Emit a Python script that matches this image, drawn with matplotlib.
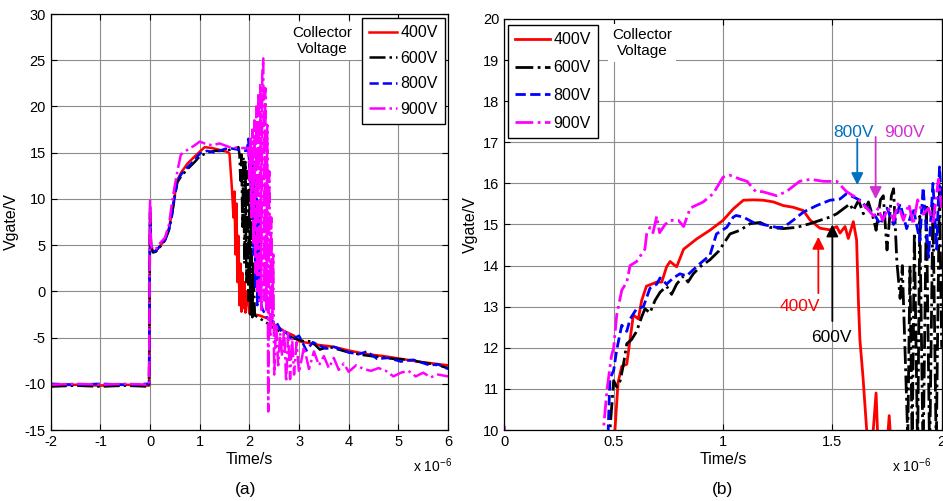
import numpy as np
import matplotlib.pyplot as plt

plt.rcParams['font.family'] = ['Liberation Sans', 'DejaVu Sans']
plt.rcParams['axes.unicode_minus'] = False

# ---------------------------------------------------------------------------
# (a) full gate-voltage waveform, time in us, (t, V) pairs
# ---------------------------------------------------------------------------
a_400V = [(-2.0, -10.2), (-1.5, -10.1), (-1.0, -10.2), (-0.5, -10.1), (-0.02, -10.2),
          (0.0, 8.5), (0.02, 5.0), (0.06, 4.3), (0.12, 4.4), (0.2, 4.9), (0.3, 5.6),
          (0.38, 6.8), (0.44, 8.5), (0.5, 10.5), (0.55, 12.0), (0.62, 12.8), (0.75, 13.8),
          (0.9, 14.6), (1.0, 15.1), (1.1, 15.6), (1.25, 15.5), (1.4, 15.3), (1.55, 15.1),
          (1.6, 14.9), (1.65, 11.0), (1.68, 8.0), (1.70, 10.8), (1.72, 4.0), (1.74, 9.5),
          (1.76, 1.0), (1.78, 6.0), (1.80, -1.5), (1.82, 3.0), (1.84, -2.2), (1.86, 2.0),
          (1.88, -1.8), (1.90, 1.0), (1.92, -2.3), (1.95, 0.0), (2.0, -2.4), (2.1, -2.5),
          (2.2, -2.6), (2.3, -2.8), (2.4, -3.0), (2.5, -3.6), (2.7, -4.3), (2.9, -4.8),
          (3.0, -5.4), (3.4, -5.8), (3.7, -6.0), (4.0, -6.4), (4.37, -6.8), (4.7, -7.0),
          (5.05, -7.3), (5.4, -7.6), (5.7, -7.8), (6.0, -8.0)]

a_600V = [(-2.0, -10.3), (-1.5, -10.2), (-1.0, -10.3), (-0.5, -10.2), (-0.02, -10.3),
          (0.0, 8.0), (0.02, 4.8), (0.06, 4.2), (0.12, 4.3), (0.2, 4.8), (0.3, 5.5),
          (0.38, 6.6), (0.44, 8.2), (0.5, 10.3), (0.55, 11.8), (0.62, 12.4), (0.75, 13.2),
          (0.9, 14.0), (1.0, 14.6), (1.15, 15.0), (1.3, 15.2), (1.5, 15.2), (1.7, 15.4),
          (1.78, 15.6), (1.80, 14.8), (1.82, 12.0), (1.84, 14.8), (1.86, 7.0), (1.88, 14.5),
          (1.90, 3.0), (1.92, 14.0), (1.94, 1.0), (1.96, 13.0), (1.98, -1.0), (2.00, 11.0),
          (2.02, -2.5), (2.04, 8.0), (2.06, -2.8), (2.08, 3.0), (2.11, -2.6), (2.2, -2.9),
          (2.35, -3.4), (2.5, -4.0), (2.7, -4.6), (2.9, -5.1), (3.1, -5.4), (3.25, -5.4),
          (3.42, -6.3), (3.6, -6.0), (3.8, -6.3), (4.0, -6.6), (4.3, -6.9), (4.6, -7.1),
          (4.9, -7.3), (5.2, -7.4), (5.5, -7.7), (5.8, -8.0), (6.0, -8.3)]

a_800V = [(-2.0, -10.0), (-1.5, -10.1), (-1.0, -10.0), (-0.5, -10.1), (-0.02, -10.0),
          (0.0, 9.0), (0.02, 4.8), (0.06, 4.3), (0.12, 4.4), (0.2, 4.9), (0.3, 5.6),
          (0.38, 6.7), (0.44, 8.3), (0.5, 10.4), (0.55, 12.0), (0.62, 12.6), (0.75, 13.4),
          (0.9, 14.2), (1.0, 14.9), (1.15, 15.2), (1.3, 15.0), (1.5, 15.4), (1.6, 15.5),
          (1.8, 15.3), (1.95, 15.2), (1.98, 16.5), (2.00, 13.0), (2.02, 15.8), (2.04, 8.0),
          (2.06, 15.5), (2.08, 4.0), (2.10, 14.0), (2.12, 0.5), (2.14, 12.0), (2.16, -1.5),
          (2.18, 9.0), (2.20, -1.0), (2.22, 5.0), (2.24, -1.5), (2.27, -2.0), (2.35, -2.8),
          (2.45, -3.2), (2.55, -3.4), (2.65, -4.4), (2.75, -4.5), (2.85, -5.2), (3.0, -4.8),
          (3.15, -6.4), (3.28, -5.5), (3.42, -5.9), (3.55, -6.2), (3.7, -6.0), (3.85, -6.3),
          (4.0, -6.6), (4.2, -6.8), (4.37, -6.5), (4.57, -7.3), (4.8, -7.2), (5.05, -7.6),
          (5.3, -7.4), (5.63, -8.0), (5.8, -7.9), (6.0, -8.4)]

a_900V = [(-2.0, -10.1), (-1.5, -10.0), (-1.0, -10.1), (-0.5, -10.0), (-0.02, -10.1),
          (0.0, 10.0), (0.02, 5.0), (0.06, 4.5), (0.12, 4.6), (0.2, 5.2), (0.3, 5.8),
          (0.38, 7.2), (0.44, 9.5), (0.5, 11.5), (0.55, 13.0), (0.62, 14.8), (0.75, 15.3),
          (0.9, 15.8), (1.0, 16.2), (1.1, 16.0), (1.25, 15.8), (1.4, 16.0), (1.6, 15.6),
          (1.8, 15.5), (1.98, 15.5), (2.00, 12.0), (2.02, 16.5), (2.04, 8.0), (2.06, 17.5),
          (2.08, 5.0), (2.10, 18.5), (2.12, 2.0), (2.14, 20.0), (2.16, 0.0), (2.18, 21.5),
          (2.20, -1.0), (2.22, 22.5), (2.24, -2.0), (2.26, 23.5), (2.28, 25.2), (2.30, -1.0),
          (2.32, 22.0), (2.34, -2.0), (2.36, 18.0), (2.38, -13.0), (2.40, 13.0), (2.42, -5.0),
          (2.44, 8.0), (2.46, -3.0), (2.48, 4.0), (2.50, -9.0), (2.54, -3.5), (2.58, -8.0),
          (2.62, -4.5), (2.66, -7.0), (2.70, -4.0), (2.74, -9.8), (2.78, -4.5), (2.82, -9.5),
          (2.86, -5.0), (2.90, -9.0), (2.95, -5.5), (3.0, -8.8), (3.1, -6.0), (3.2, -8.4),
          (3.3, -6.5), (3.4, -8.0), (3.5, -7.0), (3.6, -8.3), (3.7, -7.2), (3.8, -8.5),
          (3.9, -7.8), (4.0, -8.7), (4.15, -8.0), (4.3, -8.4), (4.45, -8.6), (4.6, -8.3),
          (4.75, -8.6), (4.9, -9.2), (5.05, -8.8), (5.2, -8.6), (5.35, -9.2), (5.5, -8.8),
          (5.65, -9.3), (5.8, -9.0), (6.0, -9.2)]

# ---------------------------------------------------------------------------
# (b) zoom on the Miller plateau, 0..2 us
# ---------------------------------------------------------------------------
b_400V = [(0.0, 4.5), (0.5, 9.5), (0.506, 10.0), (0.52, 11.15), (0.537, 11.55), (0.56, 11.6),
          (0.575, 12.2), (0.59, 12.8), (0.613, 12.7), (0.628, 13.15), (0.65, 13.5),
          (0.674, 13.55), (0.697, 13.6), (0.72, 13.6), (0.742, 13.97), (0.758, 14.1),
          (0.788, 13.97), (0.82, 14.4), (0.88, 14.65), (0.94, 14.86), (1.0, 15.1),
          (1.047, 15.38), (1.093, 15.59), (1.139, 15.6), (1.184, 15.59), (1.23, 15.55),
          (1.276, 15.46), (1.32, 15.42), (1.367, 15.34), (1.398, 15.11), (1.443, 14.91),
          (1.489, 14.87), (1.52, 14.95), (1.535, 14.79), (1.558, 14.95), (1.573, 14.66),
          (1.596, 15.07), (1.611, 14.62), (1.619, 13.16), (1.626, 12.2), (1.64, 11.3),
          (1.657, 10.0), (1.68, 9.5), (1.70, 10.9), (1.71, 9.5), (1.75, 9.6), (1.76, 10.35),
          (1.77, 9.5), (2.0, 9.0)]

b_600V = [(0.0, 4.5), (0.47, 9.5), (0.483, 10.0), (0.5, 11.2), (0.514, 11.05), (0.53, 11.2),
          (0.545, 11.6), (0.56, 12.1), (0.582, 12.2), (0.605, 12.4), (0.628, 12.75),
          (0.643, 12.95), (0.666, 12.85), (0.689, 13.15), (0.712, 13.35), (0.742, 13.5),
          (0.765, 13.3), (0.788, 13.55), (0.82, 13.75), (0.84, 13.6), (0.864, 13.8),
          (0.895, 13.97), (0.94, 14.14), (0.98, 14.35), (1.032, 14.77), (1.078, 14.86),
          (1.124, 15.02), (1.17, 15.05), (1.215, 14.93), (1.276, 14.9), (1.337, 14.93),
          (1.398, 15.02), (1.443, 15.1), (1.489, 15.18), (1.52, 15.26), (1.55, 15.38),
          (1.58, 15.5), (1.596, 15.34), (1.62, 15.59), (1.642, 15.26), (1.665, 15.55),
          (1.69, 15.1), (1.70, 14.86), (1.72, 15.6), (1.733, 15.7), (1.75, 14.38),
          (1.77, 15.7), (1.78, 15.87), (1.795, 14.1), (1.81, 13.2), (1.82, 14.0),
          (1.835, 11.5), (1.845, 9.8), (1.855, 14.0), (1.865, 9.5), (1.875, 14.8),
          (1.89, 9.5), (1.90, 15.2), (1.915, 9.3), (1.93, 15.5), (1.945, 9.3), (1.96, 15.5),
          (1.975, 9.5), (1.99, 16.0), (2.0, 12.0)]

b_800V = [(0.0, 4.5), (0.47, 9.6), (0.475, 10.0), (0.483, 11.25), (0.5, 11.45), (0.514, 11.95),
          (0.537, 12.55), (0.56, 12.4), (0.575, 12.7), (0.605, 12.95), (0.636, 13.0),
          (0.666, 13.45), (0.697, 13.55), (0.712, 13.7), (0.742, 13.55), (0.773, 13.7),
          (0.803, 13.8), (0.834, 13.75), (0.864, 13.9), (0.895, 14.05), (0.94, 14.25),
          (0.97, 14.77), (1.017, 14.93), (1.047, 15.18), (1.06, 15.22), (1.093, 15.18),
          (1.139, 15.05), (1.184, 15.0), (1.245, 14.93), (1.276, 14.93), (1.32, 15.1),
          (1.367, 15.3), (1.428, 15.46), (1.489, 15.59), (1.535, 15.62), (1.565, 15.75),
          (1.596, 15.67), (1.627, 15.59), (1.657, 15.42), (1.69, 15.26), (1.72, 15.0),
          (1.75, 15.4), (1.78, 15.0), (1.81, 15.5), (1.84, 14.9), (1.87, 15.4), (1.90, 14.6),
          (1.915, 15.9), (1.94, 14.2), (1.96, 16.0), (1.977, 14.4), (1.99, 16.4), (2.0, 15.5)]

b_900V = [(0.0, 10.1), (0.005, 4.0), (0.44, 9.5), (0.453, 10.0), (0.47, 11.0), (0.49, 11.8),
          (0.5, 12.0), (0.514, 12.8), (0.537, 13.4), (0.56, 13.6), (0.575, 14.0),
          (0.605, 14.1), (0.643, 14.4), (0.651, 14.77), (0.666, 14.93), (0.68, 14.8),
          (0.697, 15.2), (0.71, 14.8), (0.735, 15.0), (0.758, 15.1), (0.796, 15.1),
          (0.82, 14.95), (0.85, 15.4), (0.91, 15.55), (0.955, 15.75), (1.0, 16.15),
          (1.03, 16.2), (1.08, 16.1), (1.11, 16.05), (1.15, 15.8), (1.18, 15.8),
          (1.245, 15.7), (1.29, 15.8), (1.35, 16.05), (1.40, 16.1), (1.46, 16.05),
          (1.52, 16.05), (1.565, 15.8), (1.61, 15.65), (1.657, 15.4), (1.69, 15.2),
          (1.71, 15.4), (1.73, 15.1), (1.756, 15.4), (1.78, 15.1), (1.80, 15.5),
          (1.825, 15.1), (1.85, 15.5), (1.87, 15.0), (1.89, 15.6), (1.915, 15.25),
          (1.94, 15.4), (1.96, 15.0), (1.985, 16.1), (2.0, 15.4)]

labels = ['400V', '600V', '800V', '900V']
colors = ['#FF0000', '#000000', '#0000FF', '#FF00FF']
styles = ['-', '-.', '--', '-.']

# annotation arrows in (b): label, colour, text pos, arrow tail, arrow tip
arrow_notes = [
    ('800V', '#0070C0', (1.598, 17.25), (1.614, 17.08), (1.614, 15.96)),
    ('900V', '#D030D0', (1.83, 17.25), (1.698, 17.13), (1.698, 15.62)),
    ('400V', '#FF0000', (1.35, 13.0), (1.436, 13.33), (1.436, 14.70)),
    ('600V', '#000000', (1.497, 12.24), (1.50, 12.65), (1.50, 15.0)),
]

fig = plt.figure(figsize=(9.43, 5.01), dpi=100)
ax1 = fig.add_axes([0.0538, 0.1417, 0.4213, 0.8303])
ax2 = fig.add_axes([0.5348, 0.1417, 0.4638, 0.8204])

for data, lab, c, ls in zip([a_400V, a_600V, a_800V, a_900V], labels, colors, styles):
    d = np.array(data)
    ax1.plot(d[:, 0], d[:, 1], color=c, linestyle=ls, linewidth=1.8, label=lab)
for data, lab, c, ls in zip([b_400V, b_600V, b_800V, b_900V], labels, colors, styles):
    d = np.array(data)
    ax2.plot(d[:, 0], d[:, 1], color=c, linestyle=ls, linewidth=2.0, label=lab)

ax1.set_xlim(-2, 6)
ax1.set_ylim(-15, 30)
ax1.set_xticks(np.arange(-2, 7, 1))
ax1.set_yticks(np.arange(-15, 31, 5))
ax2.set_xlim(0, 2)
ax2.set_ylim(10, 20)
ax2.set_xticks([0, 0.5, 1, 1.5, 2])
ax2.set_xticklabels(['0', '0.5', '1', '1.5', '2'])
ax2.set_yticks(np.arange(10, 21, 1))

for ax in (ax1, ax2):
    ax.grid(True, color='0.55', linewidth=0.8)
    ax.set_axisbelow(True)
    ax.tick_params(direction='in', top=True, right=True, labelsize=10.5, length=4, width=0.8)
    for s in ax.spines.values():
        s.set_linewidth(0.9)
    ax.set_xlabel('Time/s', fontsize=11.5, labelpad=2)
    ax.set_ylabel('Vgate/V', fontsize=11.5, labelpad=4)

leg1 = ax1.legend(loc='upper right', bbox_to_anchor=(0.993, 0.99), borderaxespad=0,
                  fontsize=11.5, fancybox=False, framealpha=1, edgecolor='black',
                  handlelength=1.8, handletextpad=0.2, labelspacing=0.66, borderpad=0.45)
leg1.get_frame().set_linewidth(1.0)
leg2 = ax2.legend(loc='upper left', bbox_to_anchor=(0.0085, 0.985), borderaxespad=0,
                  fontsize=11.5, fancybox=False, framealpha=1, edgecolor='black',
                  handlelength=2.2, handletextpad=0.2, labelspacing=0.8, borderpad=0.45)
leg2.get_frame().set_linewidth(1.0)

box = dict(facecolor='white', edgecolor='none', pad=3)
ax1.text(3.46, 27.1, 'Collector\nVoltage', fontsize=11, ha='center', va='center',
         bbox=box, zorder=5)
ax2.text(0.63, 19.42, 'Collector\nVoltage', fontsize=11, ha='center', va='center',
         bbox=box, zorder=5)

for text, c, tpos, tail, tip in arrow_notes:
    ax2.annotate('', xy=tip, xytext=tail,
                 arrowprops=dict(arrowstyle='-|>', color=c, lw=1.3,
                                 mutation_scale=18, shrinkA=0, shrinkB=0))
    ax2.text(tpos[0], tpos[1], text, color=c, fontsize=12.5, ha='center', va='center')

fig.text(0.438, 0.057, r'x 10$^{\mathregular{-6}}$', fontsize=10)
fig.text(0.946, 0.057, r'x 10$^{\mathregular{-6}}$', fontsize=10)
fig.text(0.260, 0.022, '(a)', fontsize=12.5, ha='center', va='center')
fig.text(0.766, 0.022, '(b)', fontsize=12.5, ha='center', va='center')

fig.savefig('out.png', dpi=100)
